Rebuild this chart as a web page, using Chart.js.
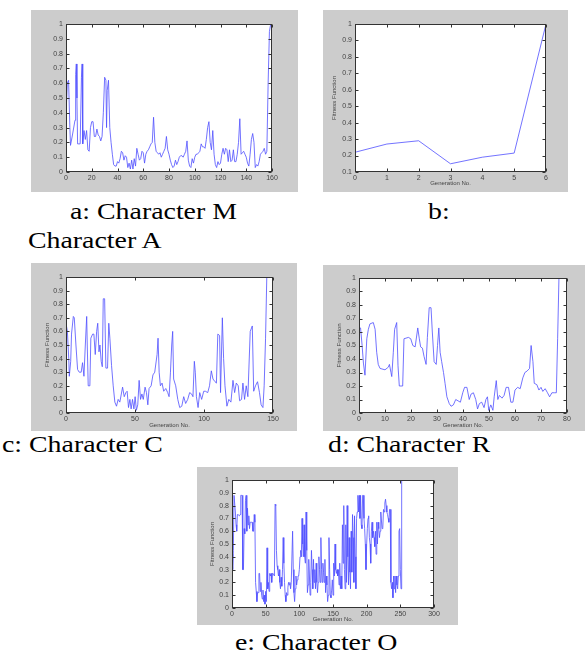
<!DOCTYPE html>
<html><head><meta charset="utf-8">
<script src="https://cdn.jsdelivr.net/npm/chart.js@4"></script>
<style>
body{margin:0;background:#fff;width:587px;height:657px;position:relative;overflow:hidden}
canvas{position:absolute}
.cap{position:absolute;font-family:"Liberation Serif","Times New Roman",serif;font-size:24px;line-height:24px;white-space:nowrap;transform-origin:0 0;transform:scaleX(1.16);color:#000}
</style></head><body>
<canvas id="ca" width="267" height="182" style="left:31px;top:10px"></canvas>
<canvas id="cb" width="245" height="182" style="left:323px;top:10px"></canvas>
<canvas id="cc" width="266" height="168" style="left:31px;top:263px"></canvas>
<canvas id="cd" width="262" height="166" style="left:323px;top:265px"></canvas>
<canvas id="ce" width="261" height="158" style="left:197px;top:467px"></canvas>
<div class="cap" style="left:70px;top:199px">a: Character M</div>
<div class="cap" style="left:428px;top:199px">b:</div>
<div class="cap" style="left:28px;top:228px">Character A</div>
<div class="cap" style="left:2px;top:432px">c: Character C</div>
<div class="cap" style="left:328px;top:432px">d: Character R</div>
<div class="cap" style="left:235px;top:630px">e: Character O</div>
<script>
// ---- data ----
const aX = [0,1,2,3,3.5,5,7,7.5,8,8.5,9,11,12,12.5,13,14,15,16,17,18,19,20,21,22,23,24,25,26,27,28,29,30,31,31.5,32,33,34,35,
36,37,38,39,40,41,42,43,44,45,46,47,48,49,50,51,52,53,54,55,56,57,58,59,60,61,62,63,64,65,66,67,68,69,70,71,72,73,74,75,76,77,78,79,80,
81,82,83,84,85,86,87,88,89,90,91,92,93,94,95,96,97,98,99,100,101,102,103,104,105,106,107,108,109,110,111,112,113,114,115,116,117,118,119,120,
121,122,123,124,125,126,127,128,129,130,131,132,133,134,135,136,137,138,139,140,141,142,143,144,145,146,147,148,149,150,151,152,153,154,155,156,157,158,159];
const aY = [0.38,0.6,0.62,0.3,0.18,0.25,0.35,0.66,0.73,0.5,0.19,0.19,0.64,0.73,0.19,0.28,0.22,0.28,0.15,0.14,0.3,0.34,0.34,0.24,0.24,0.29,0.25,0.24,0.21,0.24,0.4,0.64,0.62,0.3,0.55,0.62,0.3,0.2,
0.12,0.05,0.04,0.04,0.07,0.06,0.09,0.14,0.13,0.08,0.11,0.1,0.03,0.06,0.02,0.08,0.02,0.09,0.04,0.16,0.12,0.08,0.09,0.14,0.13,0.06,0.12,0.14,0.15,0.17,0.19,0.2,0.37,0.2,0.14,0.13,0.12,0.13,0.1,0.12,0.14,0.16,0.24,0.15,0.12,
0.08,0.05,0.03,0.04,0.08,0.05,0.07,0.1,0.11,0.11,0.1,0.12,0.14,0.21,0.08,0.04,0.03,0.09,0.06,0.1,0.12,0.12,0.13,0.14,0.19,0.17,0.17,0.16,0.22,0.3,0.34,0.2,0.15,0.28,0.12,0.05,0.03,0.07,0.05,0.06,
0.12,0.16,0.12,0.16,0.15,0.07,0.15,0.07,0.08,0.15,0.07,0.07,0.12,0.2,0.36,0.12,0.13,0.14,0.12,0.1,0.06,0.04,0.12,0.22,0.26,0.2,0.03,0.05,0.04,0.07,0.12,0.13,0.14,0.16,0.12,0.14,0.6,0.95,1.0];

const bX = [0,1,2,3,4,5,6];
const bY = [0.22,0.27,0.29,0.15,0.19,0.215,1.0];

const cX = [0,1,2,2.4,3.4,4,5.3,6,7.2,8.4,9.6,11,12,13,14,15,15.4,16.1,17.3,18,19.3,20.2,21.2,22.2,23,23.9,24.6,25.5,26.3,27,
28,28.9,30.1,31,31.8,33,34.2,35.4,36.6,37.8,39,41,42.2,43.4,44.3,45.3,46.3,47.2,48.2,49.2,50.1,51,52,53,54,55,56,57.3,58.3,59.3,
60.2,61.7,63,64.3,66,66.7,67.5,68.4,69.6,70.8,72.3,73.7,74.7,75.7,76.6,77.3,78,79.5,81,82.4,83.9,85.3,86.7,88.2,89.6,91,92,93,93.7,94.5,
95.7,96.9,98.3,99.8,101,102.7,104,105.3,106.5,108,109,110,111.3,112,113.3,114.2,115.2,116.6,118,119.5,121,122.2,123.4,124.8,125.8,127.2,128.2,129.4,130.6,131.8,
133.5,135,136,137.3,138.8,140.2,141.4,142.7,143.6,144.6,145.5];
const cY = [0.66,0.6,0.4,0.27,0.38,0.58,0.71,0.7,0.5,0.32,0.3,0.3,0.37,0.27,0.5,0.71,0.5,0.2,0.2,0.55,0.58,0.58,0.43,0.6,0.66,0.45,0.5,0.38,0.34,0.84,
0.84,0.33,0.33,0.66,0.55,0.35,0.2,0.08,0.05,0.1,0.08,0.19,0.12,0.15,0.16,0.04,0.1,0.03,0.1,0.03,0.12,0.02,0.06,0.24,0.1,0.14,0.1,0.19,0.15,0.06,
0.18,0.2,0.28,0.3,0.43,0.55,0.3,0.2,0.22,0.16,0.18,0.15,0.12,0.3,0.5,0.6,0.25,0.2,0.1,0.04,0.05,0.12,0.07,0.1,0.15,0.14,0.12,0.38,0.3,0.12,
0.04,0.15,0.1,0.16,0.16,0.15,0.2,0.31,0.25,0.23,0.22,0.58,0.57,0.15,0.7,0.4,0.2,0.05,0.1,0.08,0.24,0.15,0.22,0.2,0.09,0.1,0.22,0.1,0.2,0.12,
0.6,0.64,0.16,0.2,0.23,0.15,0.06,0.04,0.2,0.55,1.0];

const dX = [0,0.6,1.2,1.7,2.3,3,3.6,4.2,5.5,6.2,6.8,7.4,8.1,10,11.3,11.7,12.3,12.6,13.2,13.7,14.5,15,15.5,16.8,17.3,19,19.9,20.7,21.6,22.6,
23.2,23.7,24.4,25,25.8,26.3,27,27.7,28.2,28.9,29.7,30.2,30.7,31.2,31.8,32.5,33.1,33.8,34.7,35.4,36.3,37.2,38.1,39,39.9,40.6,41.5,42.4,43.1,44,
44.9,45.6,46.3,47.2,48.1,48.8,49.4,49.9,50.7,51.5,52,52.8,53.4,54,55,55.8,56.6,57.5,58.4,59.2,60,61,62,63,63.8,64.6,65.6,66.2,66.9,67.4,
68.4,69.2,70,70.7,71.6,72.5,73.3,74.2,75.1,75.9,76.4,76.9];
const dY = [0.63,0.63,0.5,0.37,0.28,0.55,0.62,0.66,0.67,0.62,0.45,0.36,0.33,0.32,0.34,0.36,0.3,0.27,0.45,0.62,0.67,0.35,0.2,0.2,0.55,0.56,0.55,0.5,0.49,0.63,
0.55,0.49,0.48,0.42,0.36,0.56,0.78,0.78,0.6,0.38,0.36,0.5,0.63,0.45,0.38,0.3,0.22,0.12,0.07,0.05,0.06,0.1,0.09,0.08,0.15,0.19,0.19,0.1,0.14,0.15,
0.1,0.03,0.07,0.08,0.04,0.1,0.12,0.02,0.06,0.02,0.12,0.24,0.1,0.13,0.11,0.13,0.19,0.19,0.08,0.08,0.17,0.19,0.18,0.26,0.3,0.31,0.33,0.5,0.38,0.22,
0.21,0.17,0.19,0.16,0.18,0.15,0.12,0.15,0.15,0.15,0.55,1.0];

// panel e: one value per generation (0, 1, 2, ...)
const eY = [0.42,0.3,0.45,0.88,0.88,0.75,0.65,0.6,0.73,0.73,0.73,0.72,0.73,0.88,0.88,0.88,0.3,0.3,0.62,0.58,0.84,0.88,0.6,0.78,0.65,0.72,0.62,0.67,0.67,0.67,
0.67,0.6,0.6,0.73,0.67,0.2,0.13,0.05,0.12,0.12,0.27,0.27,0.13,0.2,0.1,0.07,0.14,0.05,0.1,0.03,0.13,0.05,0.47,0.15,0.2,0.13,0.27,0.25,0.27,0.2,
0.27,0.27,0.27,0.25,0.81,0.8,0.45,0.33,0.3,0.25,0.3,0.2,0.15,0.24,0.17,0.3,0.55,0.35,0.2,0.1,0.05,0.12,0.1,0.16,0.2,0.18,0.2,0.15,0.2,0.2,
0.6,0.3,0.12,0.05,0.15,0.25,0.18,0.22,0.25,0.25,0.3,0.4,0.45,0.4,0.7,0.5,0.4,0.65,0.4,0.35,0.75,0.45,0.12,0.18,0.38,0.25,0.1,0.2,0.45,0.3,
0.15,0.38,0.2,0.3,0.15,0.35,0.2,0.12,0.2,0.4,0.3,0.2,0.55,0.3,0.2,0.35,0.28,0.2,0.38,0.12,0.25,0.18,0.05,0.1,0.55,0.3,0.1,0.08,0.14,0.22,
0.1,0.35,0.25,0.5,0.3,0.27,0.3,0.25,0.3,0.18,0.35,0.15,0.25,0.15,0.65,0.35,0.8,0.3,0.15,0.65,0.2,0.8,0.4,0.18,0.55,0.28,0.15,0.6,0.28,0.73,
0.55,0.2,0.72,0.4,0.15,0.7,0.75,0.88,0.75,0.88,0.7,0.88,0.65,0.62,0.88,0.88,0.7,0.62,0.5,0.3,0.5,0.62,0.7,0.72,0.55,0.5,0.35,0.6,0.67,0.55,
0.6,0.55,0.48,0.6,0.42,0.67,0.5,0.67,0.62,0.55,0.6,0.75,0.68,0.62,0.63,0.77,0.75,0.82,0.85,0.8,0.75,0.73,0.7,0.67,0.77,0.77,0.2,0.15,0.2,0.08,
0.25,0.15,0.25,0.12,0.25,0.18,0.15,0.25,0.6,0.62,0.3,0.15,1.0];

const xTicksA = [0,160,20], xTicksB = [0,6,1], xTicksC = [0,150,50], xTicksD = [0,80,10], xTicksE = [0,300,50];
const yTicksFull = [0,1,0.1], yTicksB = [0.1,1,0.1];
const yTitle = 'Fitness Function', xTitle = 'Generation No.';

// ---- drawing ----
const LINE = 'rgba(80,80,255,0.8)';
const TICKFONT = {family:'"Liberation Sans", Arial, sans-serif', size:7};
const TITLEFONT = {family:'"Liberation Sans", Arial, sans-serif', size:6};
const TXT = '#444';

const frame = {
  id:'frame',
  beforeDraw(c){
    const {ctx, chartArea:a, width, height} = c;
    ctx.save();
    ctx.fillStyle = '#cccccc'; ctx.fillRect(0,0,width,height);
    ctx.fillStyle = '#ffffff'; ctx.fillRect(a.left,a.top,a.right-a.left,a.bottom-a.top);
    ctx.restore();
  },
  afterDraw(c){
    const {ctx, chartArea:a} = c; const xs = c.scales.x, ys = c.scales.y;
    ctx.save();
    ctx.strokeStyle = '#333'; ctx.lineWidth = 1;
    const L = Math.round(a.left)+0.5, R = Math.round(a.right)-0.5, T = Math.round(a.top)+0.5, B = Math.round(a.bottom)-0.5;
    ctx.strokeRect(L, T, R-L, B-T);
    ctx.beginPath();
    xs.ticks.forEach(t => { const p = Math.round(xs.getPixelForValue(t.value))+0.5;
      ctx.moveTo(p,B); ctx.lineTo(p,B-3); ctx.moveTo(p,T); ctx.lineTo(p,T+3); });
    ys.ticks.forEach(t => { const p = Math.round(ys.getPixelForValue(t.value))+0.5;
      ctx.moveTo(L,p); ctx.lineTo(L+3,p); ctx.moveTo(R,p); ctx.lineTo(R-3,p); });
    ctx.stroke();
    ctx.restore();
  }
};

function fmt(v){ return String(Math.round(v*10)/10); }

function build(id, xs, ys, xt, yt, o){
  const pts = [];
  for (let i = 0; i < Math.min(xs.length, ys.length); i++) pts.push({x:xs[i], y:ys[i]});
  return new Chart(document.getElementById(id), {
    type:'line',
    data:{datasets:[{data:pts, borderColor:LINE, borderWidth:1, pointRadius:0, tension:0, fill:false}]},
    options:{
      responsive:false, animation:false, devicePixelRatio:1,
      layout:{padding:{left:0, top:o.pt, right:o.pr, bottom:0}},
      plugins:{legend:{display:false}, tooltip:{enabled:false}},
      scales:{
        x:{type:'linear', min:xt[0], max:xt[1],
           afterFit(s){ s.height = o.xh; },
           ticks:{stepSize:xt[2], font:TICKFONT, color:TXT, padding:2, maxRotation:0, autoSkip:false, callback:v=>fmt(v)},
           grid:{display:false, drawTicks:false}, border:{display:false},
           title:{display:!!o.xtitle, text:xTitle, font:TITLEFONT, color:TXT, padding:{top:0, bottom:o.xtp||4}}},
        y:{type:'linear', min:yt[0], max:yt[1],
           afterFit(s){ s.width = o.yw; },
           ticks:{stepSize:yt[2], font:TICKFONT, color:TXT, padding:3, autoSkip:false, callback:v=>fmt(v)},
           grid:{display:false, drawTicks:false}, border:{display:false},
           title:{display:!!o.ytitle, text:yTitle, font:TITLEFONT, color:TXT, padding:{top:o.ytp||8, bottom:0}}}
      }
    },
    plugins:[frame]
  });
}

build('ca', aX, aY, xTicksA, yTicksFull, {pt:14, pr:26, xh:20, yw:35});
build('cb', bX, bY, xTicksB, yTicksB, {pt:14, pr:22, xh:20, yw:32, xtitle:true, ytitle:true, xtp:5, ytp:8});
build('cc', cX, cY, xTicksC, yTicksFull, {pt:14, pr:24, xh:18, yw:35, xtitle:true, ytitle:true, xtp:2, ytp:13});
build('cd', dX, dY, xTicksD, yTicksFull, {pt:13, pr:18, xh:18, yw:36, xtitle:true, ytitle:true, xtp:2, ytp:13});
const eX = eY.map((_, i) => i);
build('ce', eX, eY, xTicksE, yTicksFull, {pt:13, pr:24, xh:17, yw:35, xtitle:true, ytitle:true, xtp:2, ytp:12});
</script>
</body></html>
